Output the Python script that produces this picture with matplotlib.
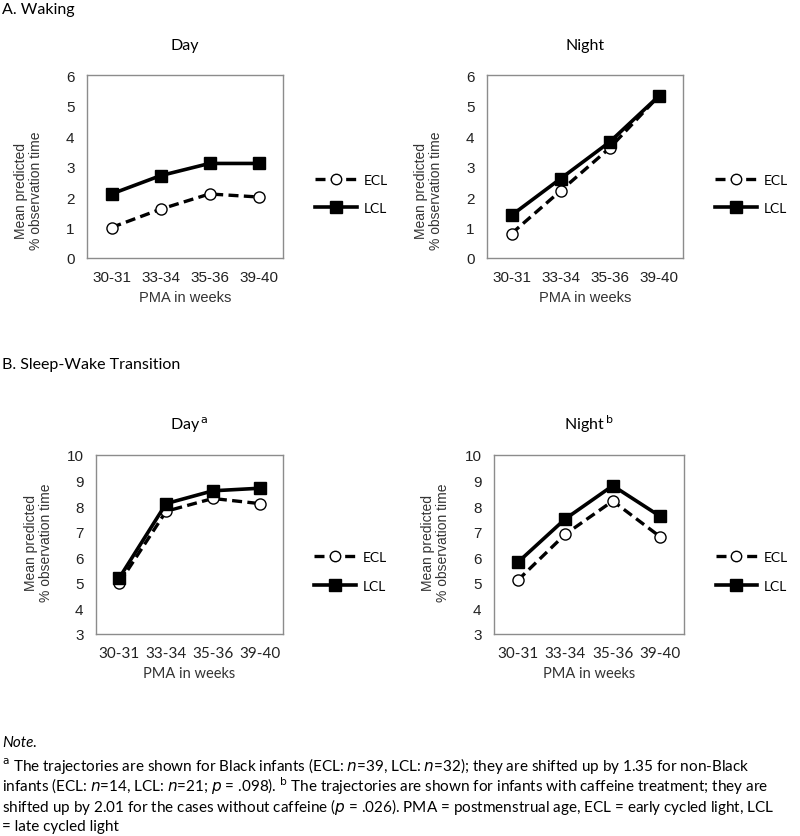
import numpy as np
import matplotlib.pyplot as plt
from matplotlib.lines import Line2D

# ----------------------------------------------------------------------
#  Data
# ----------------------------------------------------------------------
pma = ['30-31', '33-34', '35-36', '39-40']

wake_day_ecl = [1.0, 1.6, 2.1, 2.0]
wake_day_lcl = [2.1, 2.7, 3.1, 3.1]
wake_night_ecl = [0.8, 2.2, 3.6, 5.3]
wake_night_lcl = [1.4, 2.6, 3.8, 5.3]

swt_day_ecl = [5.0, 7.8, 8.3, 8.1]
swt_day_lcl = [5.2, 8.1, 8.6, 8.7]
swt_night_ecl = [5.1, 6.9, 8.2, 6.8]
swt_night_lcl = [5.8, 7.5, 8.8, 7.6]

# ----------------------------------------------------------------------
#  Plot
# ----------------------------------------------------------------------
W, H = 800, 837
fig = plt.figure(figsize=(W / 100, H / 100), dpi=100)

arial = 'Liberation Sans'
calibri = 'Lato'
DASH = (0, (3, 1.6))


def fbox(x0, y0, x1, y1):
    return [x0 / W, 1 - y1 / H, (x1 - x0) / W, (y1 - y0) / H]


def panel(rect, ecl, lcl, ylim, title, tickfont, ylab_xy):
    ax = fig.add_axes(fbox(*rect))
    x = np.arange(len(pma))
    ax.plot(x, ecl, color='black', lw=2.4, ls=DASH, marker='o',
            ms=8, mfc='white', mec='black', mew=1.0, zorder=3)
    ax.plot(x, lcl, color='black', lw=2.6, marker='s', ms=9,
            mfc='black', mec='black', zorder=4)
    ax.set_xlim(-0.5, 3.5)
    ax.set_ylim(*ylim)
    ax.set_yticks(range(ylim[0], ylim[1] + 1))
    ax.set_xticks(x)
    ax.set_xticklabels(pma, family=tickfont, fontsize=11)
    for lab in ax.get_yticklabels():
        lab.set_family(arial)
        lab.set_fontsize(11)
    ax.tick_params(length=0, colors='#222222')
    ax.tick_params(axis='x', pad=9)
    ax.tick_params(axis='y', pad=9)
    for s in ax.spines.values():
        s.set_color('#8c8c8c')
        s.set_linewidth(1.0)
    ax.set_xlabel('PMA in weeks', family=tickfont, fontsize=10.5, color='#333333', labelpad=4)
    ax.set_ylabel('Mean predicted\n% observation time', family=arial, fontsize=10,
                  color='#333333', linespacing=1.1)
    ax.yaxis.set_label_coords(*ylab_xy)
    ax.set_title(title, family=calibri, fontsize=11.5, pad=19)
    handles = [
        Line2D([], [], color='black', lw=2.4, ls=DASH, marker='o', ms=7.5,
               mfc='white', mec='black'),
        Line2D([], [], color='black', lw=2.6, marker='s', ms=8, mfc='black'),
    ]
    ax.legend(handles, ['ECL', 'LCL'], loc='center left', bbox_to_anchor=(1.1, 0.35),
              frameon=False, handlelength=3.0, handletextpad=0.5, labelspacing=1.2,
              prop={'family': calibri, 'size': 10})
    return ax


panel((87, 76, 283, 259), wake_day_ecl, wake_day_lcl, (0, 6), 'Day', arial, (-0.224, 0.372))
panel((487, 76, 683, 259), wake_night_ecl, wake_night_lcl, (0, 6), 'Night', arial, (-0.224, 0.372))
panel((96, 456, 283, 635), swt_day_ecl, swt_day_lcl, (3, 10), 'Day$^{\\,\\mathrm{a}}$', calibri, (-0.23, 0.514))
panel((494, 456, 684, 635), swt_night_ecl, swt_night_lcl, (3, 10), 'Night$^{\\,\\mathrm{b}}$', calibri, (-0.23, 0.514))

fig.text(2 / W, 1 - 10 / H, 'A. Waking', family=calibri, fontsize=11.5, va='center')
fig.text(2 / W, 1 - 365 / H, 'B. Sleep-Wake Transition', family=calibri, fontsize=11.5, va='center')

note_lines = [
    '$^{\\mathrm{a}}$ The trajectories are shown for Black infants (ECL: $\\it{n}$=39, LCL: $\\it{n}$=32); they are shifted up by 1.35 for non-Black',
    'infants (ECL: $\\it{n}$=14, LCL: $\\it{n}$=21; $\\it{p}$ = .098). $^{\\mathrm{b}}$ The trajectories are shown for infants with caffeine treatment; they are',
    'shifted up by 2.01 for the cases without caffeine ($\\it{p}$ = .026). PMA = postmenstrual age, ECL = early cycled light, LCL',
    '= late cycled light',
]
fig.text(2 / W, 1 - 743 / H, 'Note.', family=calibri, style='italic', fontsize=11, va='center')
for i, line in enumerate(note_lines):
    fig.text(2 / W, 1 - (766 + i * 20.5) / H, line, family=calibri, fontsize=11, va='center')

plt.savefig('out.png', dpi=100)
